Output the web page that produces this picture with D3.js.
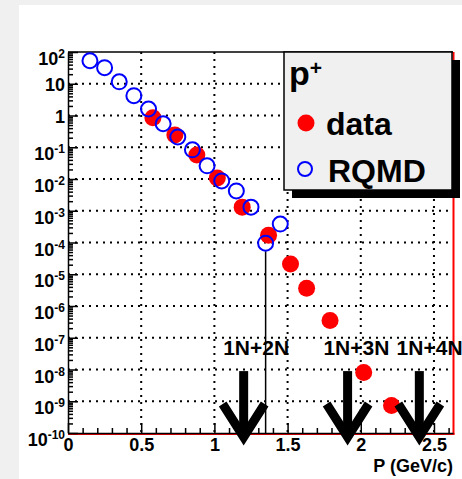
<!DOCTYPE html>
<html lang="en">
<head>
<meta charset="utf-8">
<title>p+ momentum spectrum</title>
<style>
body { margin: 0; background: #f0f0f0; }
svg { display: block; font-family: "Liberation Sans", Arial, sans-serif; font-weight: bold; }
.grid line { stroke: #000; stroke-width: 2; stroke-dasharray: 2,5; }
.axis path, .axis line { stroke: #000; stroke-width: 1.5; }
.axis text { font-size: 18px; font-weight: bold; fill: #000; font-family: "Liberation Sans", Arial, sans-serif; }
</style>
</head>
<body>
<svg width="462" height="479"></svg>
<script src="https://cdn.jsdelivr.net/npm/d3@7"></script>
<script>

// measured data (red) and RQMD model (blue)
const dataP = [0.58, 0.73, 0.88, 1.02, 1.19, 1.37, 1.52, 1.63, 1.79, 2.02, 2.21];
const dataN = [0.85, 0.245, 0.057, 0.0107, 0.0013, 1.7e-4, 2.1e-5, 3.6e-6, 3.5e-7, 8.1e-9, 7.4e-10];
const rqmdP = [0.15, 0.25, 0.35, 0.45, 0.55, 0.65, 0.75, 0.85, 0.95, 1.05, 1.15, 1.25, 1.35, 1.45];
const rqmdN = [53, 32, 11.5, 4.2, 1.6, 0.55, 0.21, 0.083, 0.026, 0.0087, 0.0042, 0.0013, 9.5e-5, 3.8e-4];

// threshold arrows
const arrowP = [1.2, 1.91, 2.4];
const arrowLabelP = [1.285, 1.97, 2.47];
const arrowLabels = ['1N+2N', '1N+3N', '1N+4N'];

const xTicks = [0, 0.5, 1, 1.5, 2, 2.5];
const yExps = [-10, -9, -8, -7, -6, -5, -4, -3, -2, -1, 0, 1, 2];

const svg = d3.select('svg');

// white canvas pad
svg.append('rect').attr('x', 19).attr('y', 5).attr('width', 443).attr('height', 474).attr('fill', '#fff');

const x = d3.scaleLinear().domain([0, 2.63]).range([68, 453]);
const y = d3.scaleLog().domain([1e-10, 1e2]).range([433, 52]);
const [x0, x1] = x.range(), [y0, y1] = y.range();

// dotted grid
const grid = svg.append('g').attr('class', 'grid');
grid.selectAll('.gx').data(xTicks.filter(d => d > 0)).enter().append('line')
  .attr('x1', d => x(d)).attr('x2', d => x(d)).attr('y1', y1).attr('y2', y0);
grid.selectAll('.gy').data(yExps.filter(e => e > -10 && e < 2)).enter().append('line')
  .attr('y1', e => y(Math.pow(10, e))).attr('y2', e => y(Math.pow(10, e)))
  .attr('x1', x0).attr('x2', x1);

// frame: red right/bottom, black top/left
svg.append('line').attr('x1', x1 + 0.5).attr('x2', x1 + 0.5).attr('y1', y1).attr('y2', y0 + 1.5)
  .attr('stroke', 'red').attr('stroke-width', 2);
svg.append('line').attr('x1', x0).attr('x2', x1 + 1.5).attr('y1', y0 + 1).attr('y2', y0 + 1)
  .attr('stroke', 'red').attr('stroke-width', 2);
svg.append('line').attr('x1', x0).attr('x2', x1).attr('y1', y1).attr('y2', y1)
  .attr('stroke', '#000').attr('stroke-width', 1.5);

// x axis (ticks inward)
const xMinor = d3.range(0, 27).map(i => i / 10).filter(v => Math.round(v * 10) % 5 !== 0);
svg.append('g').attr('class', 'axis').attr('transform', 'translate(0,' + y0 + ')')
  .call(d3.axisBottom(x).tickValues(xMinor).tickSize(-5).tickFormat(''))
  .call(g => g.select('.domain').remove());
svg.append('g').attr('class', 'axis').attr('transform', 'translate(0,' + y0 + ')')
  .call(d3.axisBottom(x).tickValues(xTicks).tickSizeInner(-10).tickSizeOuter(0).tickPadding(5).tickFormat(d => d));

// y axis (log, ticks inward)
const yMinor = [];
yExps.slice(0, -1).forEach(e => { for (let k = 2; k < 10; k++) yMinor.push(k * Math.pow(10, e)); });
svg.append('g').attr('class', 'axis').attr('transform', 'translate(' + x0 + ',0)')
  .call(d3.axisLeft(y).tickValues(yMinor).tickSize(-5).tickFormat(''))
  .call(g => g.select('.domain').remove());
svg.append('g').attr('class', 'axis').attr('transform', 'translate(' + x0 + ',0)')
  .call(d3.axisLeft(y).tickValues(yExps.map(e => Math.pow(10, e))).tickSizeInner(-10).tickSizeOuter(0).tickFormat(''));

// y tick labels: 10^n
const ylab = svg.append('g').attr('font-size', 18).attr('text-anchor', 'end');
yExps.forEach(e => {
  const ty = y(Math.pow(10, e));
  if (e === 0 || e === 1) {
    ylab.append('text').attr('x', 65).attr('y', ty + 7).text(e === 0 ? '1' : '10');
  } else {
    const t = ylab.append('text').attr('x', 65).attr('y', ty + 13);
    t.append('tspan').text('10');
    t.append('tspan').attr('font-size', 12).attr('dy', -7).text(e);
  }
});

// x title
svg.append('text').attr('x', 453).attr('y', 472).attr('text-anchor', 'end')
  .attr('font-size', 18).text('P (GeV/c)');

// lower error bar of the RQMD point at 1.35
svg.append('line').attr('x1', x(rqmdP[12])).attr('x2', x(rqmdP[12]))
  .attr('y1', y(rqmdN[12]) + 8).attr('y2', y0)
  .attr('stroke', '#000').attr('stroke-width', 1.5);

// points
svg.append('g').selectAll('circle').data(dataP).enter().append('circle')
  .attr('cx', d => x(d)).attr('cy', (d, i) => y(dataN[i])).attr('r', 8.5).attr('fill', 'red');
svg.append('g').selectAll('circle').data(rqmdP).enter().append('circle')
  .attr('cx', d => x(d)).attr('cy', (d, i) => y(rqmdN[i])).attr('r', 7.5)
  .attr('fill', 'none').attr('stroke', 'blue').attr('stroke-width', 2);

// arrows
const arrows = svg.append('g');
arrowP.forEach((p, i) => {
  const ax = x(p), top = y(Math.pow(10, -8.05)), tip = y0 + 8;
  arrows.append('line').attr('x1', ax).attr('x2', ax).attr('y1', top).attr('y2', tip - 6)
    .attr('stroke', '#000').attr('stroke-width', 9);
  arrows.append('path')
    .attr('d', 'M' + (ax - 21) + ',' + (tip - 37) + 'L' + ax + ',' + (tip - 4) + 'L' + (ax + 21) + ',' + (tip - 37))
    .attr('fill', 'none').attr('stroke', '#000').attr('stroke-width', 9).attr('stroke-linejoin', 'miter');
  arrows.append('text').attr('x', x(arrowLabelP[i])).attr('y', 355).attr('text-anchor', 'middle')
    .attr('font-size', 21).text(arrowLabels[i]);
});

// legend with drop shadow
const leg = svg.append('g');
leg.append('rect').attr('x', 292).attr('y', 60).attr('width', 168).attr('height', 138).attr('fill', '#000');
leg.append('rect').attr('x', 284).attr('y', 52).attr('width', 168).attr('height', 138)
  .attr('fill', '#f0f0f0').attr('stroke', '#000').attr('stroke-width', 1.5);
const ptitle = leg.append('text').attr('x', 289).attr('y', 85).attr('font-size', 34);
ptitle.append('tspan').text('p');
ptitle.append('tspan').attr('font-size', 21).attr('dy', -10).text('+');
leg.append('circle').attr('cx', 306).attr('cy', 123).attr('r', 8.5).attr('fill', 'red');
leg.append('text').attr('x', 326).attr('y', 135).attr('font-size', 32).text('data');
leg.append('circle').attr('cx', 305).attr('cy', 169).attr('r', 7)
  .attr('fill', 'none').attr('stroke', 'blue').attr('stroke-width', 2);
leg.append('text').attr('x', 328).attr('y', 182).attr('font-size', 32).text('RQMD');

</script>
</body>
</html>
